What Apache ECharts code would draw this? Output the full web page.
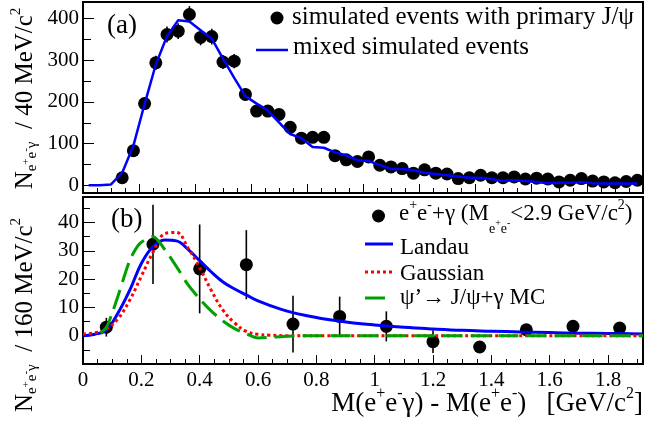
<!DOCTYPE html>
<html><head><meta charset="utf-8">
<script src="https://cdn.jsdelivr.net/npm/echarts@6/dist/echarts.min.js"></script>
<style>html,body{margin:0;padding:0;background:#fff}#c{width:672px;height:426px}</style>
</head><body><div id="c"></div>
<script>
// ---------- DATA ----------
// (a) 40 MeV bins, 0 .. 2.0 GeV
const topX = [0.02,0.06,0.10,0.14,0.18,0.22,0.26,0.30,0.34,0.38,0.42,0.46,0.50,0.54,0.58,0.62,0.66,0.70,0.74,0.78,0.82,0.86,0.90,0.94,0.98,1.02,1.06,1.10,1.14,1.18,1.22,1.26,1.30,1.34,1.38,1.42,1.46,1.50,1.54,1.58,1.62,1.66,1.70,1.74,1.78,1.82,1.86,1.90,1.94,1.98];
const topSimulated = [null,null,null,18,83,196,294,362,370,410,355,357,296,298,218,178,178,170,139,113,115,115,71,61,57,68,48,44,40,29,37,29,27,16,18,24,18,18,20,15,17,15,8,12,16,10,8,6,9,12];
const topSimulatedErr = [null,null,null,4,9,14,17,19,19,20,19,19,17,17,15,13,13,13,12,11,11,11,8,8,8,8,7,7,6,5,6,5,5,4,4,5,4,4,4,4,4,4,3,3,4,3,3,2,3,3];
const topMixed = [0,0,2,30,95,195,290,358,396,393,372,352,304,258,214,196,180,151,123,113,92,90,79,72,60,58,49,39,39,36,30,27,24,21,18,18,15,10,12,10,8,5,6,6,8,5,4,4,4,4];

// (b) 160 MeV bins
const botX = [0.08,0.24,0.40,0.56,0.72,0.88,1.04,1.20,1.36,1.52,1.68,1.84];
const botData = [3,32.3,23.6,25.1,4.1,6.8,3.3,-2.1,-4.0,2.1,3.3,2.7];
const botErr = [3.3,14,15.7,12.2,10,7,5.3,4,1.5,1.5,1.5,1.5];

const landauX = [0,0.04,0.08,0.12,0.16,0.20,0.24,0.28,0.32,0.36,0.40,0.44,0.48,0.52,0.56,0.60,0.68,0.76,0.84,0.92,1.00,1.10,1.20,1.30,1.40,1.50,1.60,1.70,1.80,1.92];
const landauY = [0,0.5,2,8,16,25.5,31.5,33.8,33.5,30.5,26.5,22.5,19,16.5,14.4,12.3,9.3,7.2,5.7,4.6,3.8,3.0,2.4,1.9,1.6,1.3,1.1,0.9,0.8,0.6];

const gaussX = [0,0.04,0.08,0.12,0.16,0.20,0.24,0.28,0.32,0.36,0.40,0.44,0.48,0.52,0.56,0.60,0.64,0.70,0.80,1.00,1.40,1.92];
const gaussY = [0.6,1,2.3,6,12.5,21,29.5,36,36.5,31,24,16,9,4.5,1.5,0.5,0.2,0,0,0,0,0];

const mcX = [0.06,0.08,0.10,0.12,0.14,0.16,0.18,0.20,0.24,0.28,0.32,0.36,0.40,0.44,0.48,0.52,0.56,0.60,0.64,0.70,0.80,1.00,1.40,1.92];
const mcY = [1,3,8,14,20.5,26.5,30.5,33,35,30.5,24.5,18,13,8.7,5.2,2.5,0.7,-0.8,-0.6,-0.2,0,0,0,0];

// tick labels
const topYTicks = [0,100,200,300,400];
const topYMinor = [50,150,250,350];
const botYTicks = [0,10,20,30,40];
const botYMinor = [-5,5,15,25,35,45];
const topXTicks = [0,0.2,0.4,0.6,0.8,1.0,1.2,1.4,1.6,1.8,2.0];
const botXTicks = [0,0.2,0.4,0.6,0.8,1,1.2,1.4,1.6,1.8];

// ---------- CHART ----------
const FONT = 'Liberation Serif';
function minorTicks(maxV){ const a=[]; for(let i=0;i*0.05<=maxV+1e-9;i++){ if(i%4) a.push(+(i*0.05).toFixed(2)); } return a; }

const topPts = topX.map((x,i)=>[x, topSimulated[i]]).filter(d=>d[1]!=null);
const topErrs = topX.map((x,i)=>[x, topSimulated[i], topSimulatedErr[i]]).filter(d=>d[1]!=null);
const topLine = topX.map((x,i)=>[x, topMixed[i]]);
const botPts = botX.map((x,i)=>[x, botData[i]]);
const botErrs = botX.map((x,i)=>[x, botData[i], botErr[i]]);
const zip = (a,b)=>a.map((x,i)=>[x,b[i]]);

function errRender(params, api){
  const x=api.value(0), y=api.value(1), e=api.value(2);
  const p1=api.coord([x,y+e]), p2=api.coord([x,y-e]);
  return {type:'line', shape:{x1:p1[0],y1:p1[1],x2:p2[0],y2:p2[1]}, style:{stroke:'#000', lineWidth:1.6}};
}

const lbl = {fontFamily:FONT, fontSize:21, color:'#000'};
const tk = (len, vals) => ({show:true, inside:true, length:len, customValues:vals, lineStyle:{color:'#000', width:1}});
const noLine = {show:false, onZero:false};
function xa(grid, max, major, minor, showLbl){
  return [
    {gridIndex:grid, type:'value', min:0, max:max, position:'bottom', axisLine:noLine, splitLine:{show:false},
     axisTick:tk(9, major), axisLabel:Object.assign({show:showLbl, customValues:major, margin:6}, lbl)},
    {gridIndex:grid, type:'value', min:0, max:max, position:'bottom', axisLine:noLine, splitLine:{show:false},
     axisTick:tk(5, minor), axisLabel:{show:false, customValues:minor}}
  ];
}
function ya(grid, min, max, major, minor, lenMaj, lenMin){
  return [
    {gridIndex:grid, type:'value', min:min, max:max, position:'left', axisLine:noLine, splitLine:{show:false},
     axisTick:tk(lenMaj, major), axisLabel:Object.assign({show:true, customValues:major, margin:4}, lbl)},
    {gridIndex:grid, type:'value', min:min, max:max, position:'left', axisLine:noLine, splitLine:{show:false},
     axisTick:tk(lenMin, minor), axisLabel:{show:false, customValues:minor}}
  ];
}

function rich(F){
  const H=40;
  const s=(size,h)=>({fontSize:size, fontFamily:FONT, height:h, verticalAlign:'bottom', fill:'#000'});
  return {
    n: s(F,H),
    sp: s(Math.round(F*0.6), H+F*0.72),
    sb: s(Math.round(F*0.6), H-F*0.56),
    sbsp: s(Math.round(F*0.42), H-F*0.56+F*0.5),
    dsb: s(Math.round(F*0.6), H-F*1.3),
    dsbsp: s(Math.round(F*0.42), H-F*1.3+F*0.45)
  };
}
function txt(x, yc, str, F, align){
  return {type:'text', x:x, y:yc+20, z:100, silent:true,
    style:{text:str, rich:rich(F), x:0, y:0, align:align||'left', verticalAlign:'bottom', fontFamily:FONT, fontSize:F, fill:'#000'}};
}
function vtxt(xc, yc, str, F){
  return {type:'text', x:xc+20, y:yc, rotation:Math.PI/2, z:100, silent:true,
    style:{text:str, rich:rich(F), x:0, y:0, align:'center', verticalAlign:'bottom', fontFamily:FONT, fontSize:F, fill:'#000'}};
}

const dot = {color:'#000', opacity:1};
const option = {
  animation:false,
  backgroundColor:'#fff',
  grid:[
    {left:83, top:2, width:560, height:191, show:true, borderColor:'#000', borderWidth:2, backgroundColor:'transparent'},
    {left:83, top:197, width:560, height:167, show:true, borderColor:'#000', borderWidth:2, backgroundColor:'transparent'}
  ],
  xAxis:[].concat(xa(0, 2.0, topXTicks, minorTicks(2.0), false), xa(1, 1.92, botXTicks, minorTicks(1.92), true)),
  yAxis:[].concat(ya(0, -18.6, 440, topYTicks, topYMinor, 11, 8), ya(1, -10, 49, botYTicks, botYMinor, 12, 7)),
  series:[
    {type:'custom', xAxisIndex:0, yAxisIndex:0, renderItem:errRender, data:topErrs, z:2, silent:true},
    {type:'scatter', xAxisIndex:0, yAxisIndex:0, data:topPts, symbol:'circle', symbolSize:13, itemStyle:dot, z:3, silent:true},
    {type:'line', xAxisIndex:0, yAxisIndex:0, data:topLine, symbol:'none', lineStyle:{color:'#0000ff', width:2.5}, z:4, silent:true},

    {type:'custom', xAxisIndex:2, yAxisIndex:2, renderItem:errRender, data:botErrs, z:2, silent:true},
    {type:'scatter', xAxisIndex:2, yAxisIndex:2, data:botPts, symbol:'circle', symbolSize:13, itemStyle:dot, z:3, silent:true},
    {type:'line', xAxisIndex:2, yAxisIndex:2, data:zip(landauX,landauY), symbol:'none', smooth:0.4, lineStyle:{color:'#0000ff', width:3}, z:4, silent:true},
    {type:'line', xAxisIndex:2, yAxisIndex:2, data:zip(gaussX,gaussY), symbol:'none', smooth:0.4, lineStyle:{color:'#ff0000', width:3, type:[3,3]}, z:5, silent:true},
    {type:'line', xAxisIndex:2, yAxisIndex:2, data:zip(mcX,mcY), symbol:'none', smooth:0.3, lineStyle:{color:'#00a000', width:3, type:[20,8]}, z:6, silent:true}
  ],
  graphic:[
    txt(107, 26, '{n|(a)}', 27),
    txt(111, 220, '{n|(b)}', 27),
    {type:'circle', shape:{cx:277, cy:18, r:6.5}, style:{fill:'#000'}, z:100},
    txt(292, 17, '{n|simulated events with primary J/ψ}', 25),
    {type:'line', shape:{x1:256, y1:50, x2:288, y2:50}, style:{stroke:'#0000ff', lineWidth:2.5}, z:100},
    txt(293, 47, '{n|mixed simulated events}', 25),

    {type:'circle', shape:{cx:378.5, cy:216, r:6.5}, style:{fill:'#000'}, z:100},
    txt(399, 214, '{n|e}{sp|+}{n|e}{sp|-}{n|+γ (M}{dsb|e}{dsbsp|+}{dsb|e}{dsbsp|-}{n|<2.9 GeV/c}{sp|2}{n|)}', 23),
    {type:'line', shape:{x1:365, y1:244, x2:393, y2:244}, style:{stroke:'#0000ff', lineWidth:3}, z:100},
    txt(400, 247.5, '{n|Landau}', 23),
    {type:'line', shape:{x1:365, y1:272, x2:393, y2:272}, style:{stroke:'#ff0000', lineWidth:3, lineDash:[3,3]}, z:100},
    txt(400, 274, '{n|Gaussian}', 23),
    {type:'line', shape:{x1:365, y1:298, x2:393, y2:298}, style:{stroke:'#00a000', lineWidth:3, lineDash:[20,8]}, z:100},
    txt(400, 297.5, '{n|ψ’→ J/ψ+γ MC}', 23),

    txt(643, 404, '{n|M(e}{sp|+}{n|e}{sp|-}{n|γ) - M(e}{sp|+}{n|e}{sp|-}{n|)   [GeV/c}{sp|2}{n|]}', 27, 'right'),
    vtxt(25, 98.5, '{n|N}{sb|e}{sbsp|+}{sb|e}{sbsp|-}{sb|γ}{n|  / 40 MeV/c}{sp|2}', 25),
    vtxt(25, 315, '{n|N}{sb|e}{sbsp|+}{sb|e}{sbsp|-}{sb|γ}{n|  / 160 MeV/c}{sp|2}', 25)
  ]
};
const chart = echarts.init(document.getElementById('c'), null, {renderer:'canvas'});
chart.setOption(option);
</script>
</body></html>
